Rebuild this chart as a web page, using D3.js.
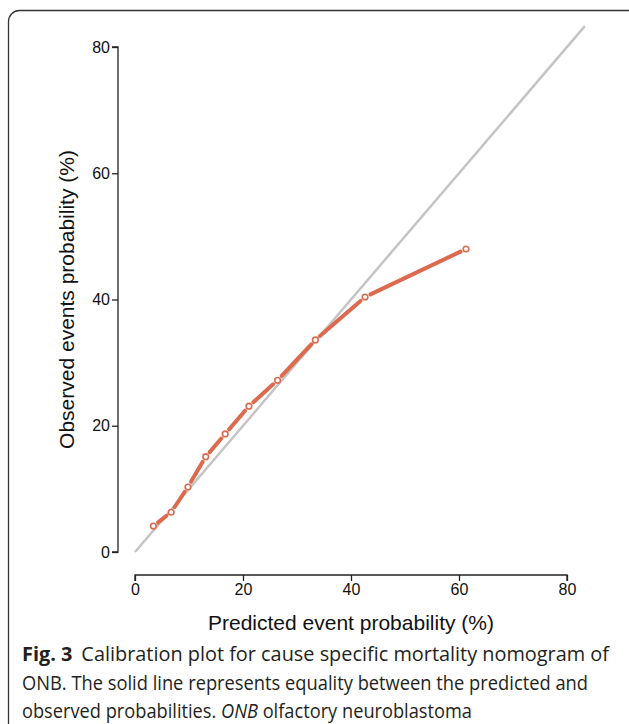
<!DOCTYPE html>
<html>
<head>
<meta charset="utf-8">
<script src="https://cdn.jsdelivr.net/npm/d3@7"></script>
<style>
  body { margin: 0; background: #fff; }
  svg { display: block; }
</style>
</head>
<body>
<svg id="chart"></svg>
<script>
// calibration points (predicted %, observed %)
const predicted = [3.4, 6.7, 9.8, 13.1, 16.7, 21.1, 26.4, 33.4, 42.6, 61.3];
const observed = [4.1, 6.3, 10.3, 15.1, 18.7, 23.1, 27.2, 33.6, 40.4, 48.0];
const idealLine = [0, 83.3];
const xTicks = [0, 20, 40, 60, 80];
const yTicks = [0, 20, 40, 60, 80];

const width = 629;
const height = 724;

const svg = d3.select('#chart')
    .attr('width', width)
    .attr('height', height);

// frame around the figure
svg.append('rect')
    .attr('x', 8.5)
    .attr('y', 10.5)
    .attr('width', 632)
    .attr('height', 800)
    .attr('rx', 11)
    .attr('fill', 'none')
    .attr('stroke', '#333')
    .attr('stroke-width', 1.3);

const x = d3.scaleLinear().domain([0, 80]).range([135, 567]);
const y = d3.scaleLinear().domain([0, 80]).range([552, 47]);

const tickFont = 'Liberation Sans, Arial, sans-serif';

// y axis, offset to the left
const yAxis = svg.append('g')
    .attr('transform', 'translate(118,0)')
    .call(d3.axisLeft(y).tickValues(yTicks).tickSize(6).tickPadding(2));
yAxis.select('.domain').attr('stroke', '#222').attr('stroke-width', 1.3)
    .attr('d', `M-6,${y(80)}H0V${y(0)}H-6`);
yAxis.selectAll('.tick line').attr('stroke', '#222').attr('stroke-width', 1.3);
yAxis.selectAll('.tick text')
    .style('font-family', tickFont).style('font-size', '16px').attr('fill', '#111');

// x axis, offset below
const xAxis = svg.append('g')
    .attr('transform', 'translate(0,575)')
    .call(d3.axisBottom(x).tickValues(xTicks).tickSize(6).tickPadding(3));
xAxis.select('.domain').attr('stroke', '#222').attr('stroke-width', 1.3)
    .attr('d', `M${x(0)},6V0H${x(80)}V6`);
xAxis.selectAll('.tick line').attr('stroke', '#222').attr('stroke-width', 1.3);
xAxis.selectAll('.tick text')
    .style('font-family', tickFont).style('font-size', '16px').attr('fill', '#111');

// axis titles
svg.append('text')
    .attr('transform', `translate(74,${(y(0) + y(80)) / 2}) rotate(-90)`)
    .attr('text-anchor', 'middle')
    .style('font-family', tickFont)
    .style('font-size', '21px')
    .attr('fill', '#111')
    .text('Observed events probability (%)');

svg.append('text')
    .attr('x', (x(0) + x(80)) / 2)
    .attr('y', 630)
    .attr('text-anchor', 'middle')
    .style('font-family', tickFont)
    .style('font-size', '21px')
    .attr('fill', '#111')
    .text('Predicted event probability (%)');

// ideal line
svg.append('line')
    .attr('x1', x(idealLine[0])).attr('y1', y(idealLine[0]))
    .attr('x2', x(idealLine[1])).attr('y2', y(idealLine[1]))
    .attr('stroke', '#c4c4c4')
    .attr('stroke-width', 2.5);

// calibration curve, drawn as separate segments leaving a gap at each point
const pts = predicted.map((p, i) => [x(p), y(observed[i])]);
const gap = 6;
const segs = [];
for (let i = 0; i < pts.length - 1; i++) {
    const [x0, y0] = pts[i];
    const [x1, y1] = pts[i + 1];
    const len = Math.hypot(x1 - x0, y1 - y0);
    const ux = (x1 - x0) / len, uy = (y1 - y0) / len;
    segs.push([x0 + ux * gap, y0 + uy * gap, x1 - ux * gap, y1 - uy * gap]);
}
const orange = '#dc6a4f';
svg.selectAll('.seg')
    .data(segs)
    .enter().append('line')
    .attr('class', 'seg')
    .attr('x1', d => d[0]).attr('y1', d => d[1])
    .attr('x2', d => d[2]).attr('y2', d => d[3])
    .attr('stroke', orange)
    .attr('stroke-width', 4)
    .attr('stroke-linecap', 'round');

svg.selectAll('.pt')
    .data(pts)
    .enter().append('circle')
    .attr('class', 'pt')
    .attr('cx', d => d[0])
    .attr('cy', d => d[1])
    .attr('r', 2.8)
    .attr('fill', '#fff')
    .attr('stroke', orange)
    .attr('stroke-width', 1.6);

// caption
const capFont = '"Open Sans", "Noto Sans", sans-serif';
const cap = svg.append('g')
    .style('font-family', capFont)
    .style('font-size', '20px')
    .attr('fill', '#231f20');

const l1 = cap.append('text').attr('x', 22).attr('y', 661);
l1.append('tspan').style('font-weight', 'bold').text('Fig. 3');
l1.append('tspan').attr('dx', 9).text('Calibration plot for cause specific mortality nomogram of');

cap.append('text').attr('x', 22).attr('y', 690)
    .text('ONB. The solid line represents equality between the predicted and');

const l3 = cap.append('text').attr('x', 22).attr('y', 718);
l3.append('tspan').text('observed probabilities. ');
l3.append('tspan').style('font-style', 'italic').text('ONB');
l3.append('tspan').text(' olfactory neuroblastoma');

// fit the caption lines to the widths seen in the figure
const capWidths = [587, 566, 450];
cap.selectAll('text').each(function (d, i) {
    d3.select(this).attr('textLength', capWidths[i]).attr('lengthAdjust', 'spacingAndGlyphs');
});
</script>
</body>
</html>
